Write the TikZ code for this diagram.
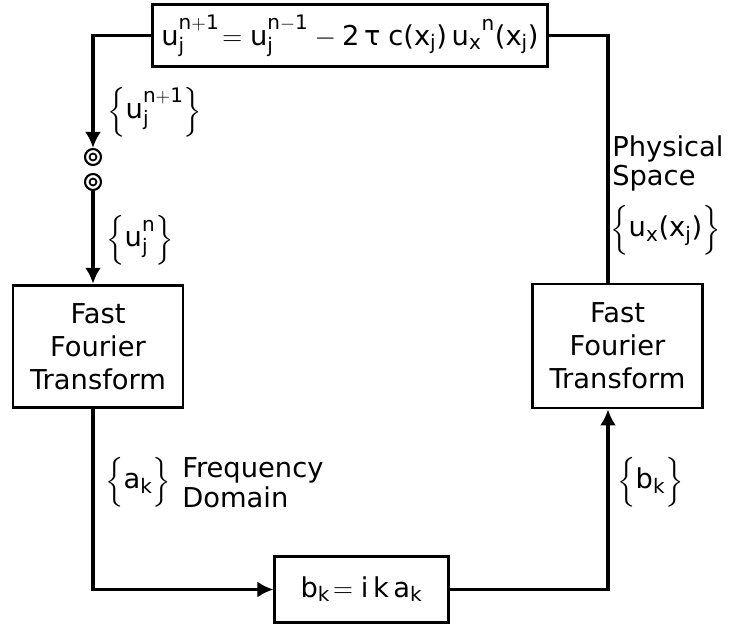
\documentclass[tikz,border=0pt]{standalone}
\usepackage{amsmath}
\usepackage{fontspec}
\setmainfont{DejaVu Sans}
\usetikzlibrary{arrows.meta}
\DeclareMathSizes{20.5}{20.5}{15}{11}
\newcommand{\lbl}{\fontsize{20.5}{24.75}\selectfont}
\newcommand{\tightlbl}{\fontsize{20.5}{22}\selectfont}
\newcommand{\lpar}{\mbox{(}}
\newcommand{\rpar}{\mbox{)}}
\begin{document}
\begin{tikzpicture}[x=0.75pt,y=-0.75pt,
  every node/.style={font=\lbl},
  box/.style={draw,line width=2.1pt,inner sep=0pt,align=center},
  wire/.style={line width=2.4pt},
  arr/.style={wire,-{Latex[length=12pt,width=12pt]}},
  ring/.style={draw,line width=1.6pt,circle,minimum size=12pt,inner sep=0pt,
     path picture={\draw[line width=1.3pt] (path picture bounding box.center) circle (2.6pt);}},
  lab/.style={inner sep=0pt}]
\useasboundingbox (0,0) rectangle (736,627);
\node[box,minimum width=296pt,minimum height=47pt] (eq) at (350,35.5)
  {$\mathrm{u_j^{n+1}\!=u_j^{n-1}-2}\,\mbox{τ}\;\mathrm{c\lpar x_j\rpar\,u_x{}^{n}\lpar x_j\rpar}$};
\node[box,minimum width=127.5pt,minimum height=92pt] (fftL) at (98,346.5)
  {Fast\\Fourier\\Transform};
\node[box,minimum width=128pt,minimum height=93pt] (fftR) at (617.5,346)
  {Fast\\Fourier\\Transform};
\node[box,minimum width=130pt,minimum height=50pt] (mult) at (361.5,589.5)
  {$\mathrm{b_k\!=i\,k\,a_k}$};
\node[ring] (c1) at (93,157) {};
\node[ring] (c2) at (93,182) {};
\coordinate (rx) at (608,0);
% connectors
\draw[arr] (eq.west) -| (c1.north);
\draw[arr] (c2.south) -- (c2 |- fftL.north);
\draw[arr] (c2 |- fftL.south) |- (mult.west);
\draw[arr] (mult.east) -| (rx |- fftR.south);
\draw[wire] (rx |- fftR.north) |- (eq.east);
% labels
\node[lab,anchor=west] (l1) at (107,112) {$\Big\{\mathrm{u_j^{n+1}}\Big\}$};
\node[lab,anchor=west] (l2) at (106,240) {$\Big\{\mathrm{u_j^{n}}\Big\}$};
\node[lab,anchor=base west,align=left,font=\tightlbl] (l3) at (612,186) {Physical\\Space};
\node[lab,anchor=west] (l5) at (610,230) {$\Big\{\mathrm{u_x\lpar x_j\rpar}\Big\}$};
\node[lab,anchor=west] (l6) at (105,482) {$\Big\{\mathrm{a_k}\Big\}$};
\node[lab,anchor=base west,align=left,font=\tightlbl] (l7) at (182,507) {Frequency\\Domain};
\node[lab,anchor=west] (l9) at (617,482) {$\Big\{\mathrm{b_k}\Big\}$};
\end{tikzpicture}
\end{document}
